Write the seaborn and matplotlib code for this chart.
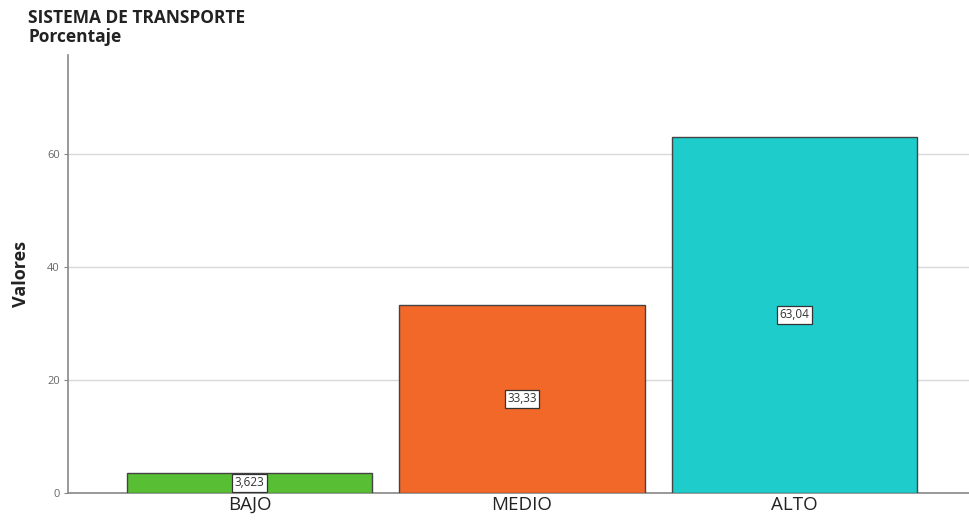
import matplotlib
matplotlib.use("Agg")
import matplotlib.pyplot as plt
import seaborn as sns
import pandas as pd

categorias = ["BAJO", "MEDIO", "ALTO"]
valores = [3.623, 33.33, 63.04]
etiquetas = ["3,623", "33,33", "63,04"]
colores = ["#58be34", "#f16828", "#1ecccc"]
yticks = [0, 20, 40, 60]

df = pd.DataFrame({"categoria": categorias, "valor": valores})

sns.set_style("white")
plt.rcParams["font.family"] = ["Open Sans", "DejaVu Sans"]

fig = plt.figure(figsize=(9.69, 5.23), dpi=100)
ax = fig.add_axes([0.0702, 0.0574, 0.9298, 0.8375])

sns.barplot(data=df, x="categoria", y="valor", hue="categoria",
            palette=colores, saturation=1, width=0.9, edgecolor="#444444",
            linewidth=1, legend=False, ax=ax, zorder=3)

# etiquetas en el centro de cada barra
for i, (v, t) in enumerate(zip(valores, etiquetas)):
    ax.text(i, v / 2, t, ha="center", va="center", fontsize=8.5, color="#333333",
            bbox=dict(boxstyle="square,pad=0.2", fc="white", ec="#333333", lw=0.9),
            zorder=5)

ax.set_xlim(-0.666, 2.64)
ax.set_ylim(0, 77.5)
ax.set_yticks(yticks)
ax.set_yticklabels([str(t) for t in yticks], fontsize=8, color="#666666")
ax.tick_params(axis="x", labelsize=13.5, colors="#222222", length=0, pad=2)
ax.tick_params(axis="y", length=3, color="#888888", pad=3, direction="out", left=True)
ax.yaxis.grid(True, color="#d9d9d9", lw=1, zorder=0)
ax.set_axisbelow(True)

for s in ["top", "right"]:
    ax.spines[s].set_visible(False)
for s in ["left", "bottom"]:
    ax.spines[s].set_color("#888888")
    ax.spines[s].set_linewidth(1.2)

ax.set_xlabel("")
ax.set_ylabel("Valores", fontsize=13, fontweight="bold", color="#222222", labelpad=12)

fig.text(0.029, 0.965, "SISTEMA DE TRANSPORTE", fontsize=12.5, fontweight="bold",
         color="#222222", va="center")
fig.text(0.029, 0.930, "Porcentaje", fontsize=12.5, fontweight="bold",
         color="#222222", va="center")

fig.savefig("out.png", dpi=100)
